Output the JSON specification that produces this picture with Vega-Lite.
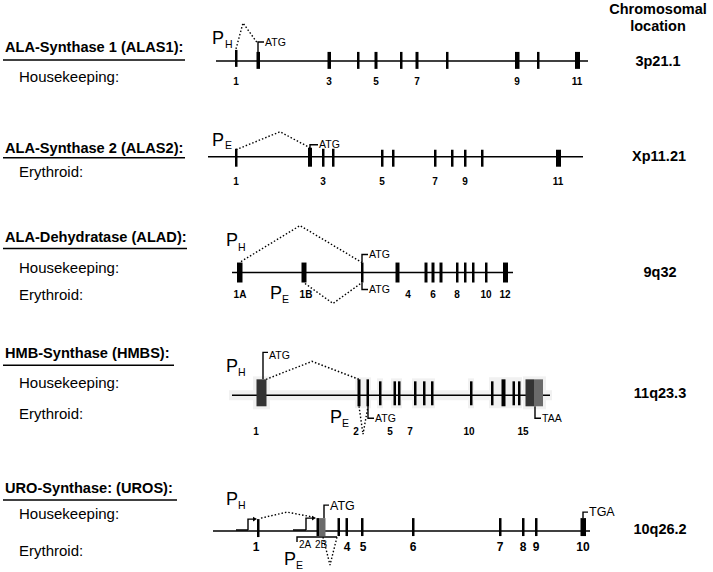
{
  "$schema": "https://vega.github.io/schema/vega-lite/v6.json",
  "width": 713,
  "height": 572,
  "autosize": {"type": "fit", "contains": "padding"},
  "padding": 0,
  "background": "white",
  "config": {"view": {"stroke": null}, "text": {"font": "Liberation Sans", "color": "black"}},
  "datasets": {
    "halos": [
      {"x": 229, "x2": 552, "y": 391, "y2": 401},
      {"x": 253, "x2": 270, "y": 377, "y2": 410},
      {"x": 355, "x2": 371, "y": 378, "y2": 409},
      {"x": 377, "x2": 383, "y": 379, "y2": 409},
      {"x": 391, "x2": 402, "y": 379, "y2": 409},
      {"x": 412, "x2": 435, "y": 379, "y2": 409},
      {"x": 468, "x2": 474, "y": 379, "y2": 409},
      {"x": 489, "x2": 522, "y": 378, "y2": 409},
      {"x": 523, "x2": 546, "y": 377, "y2": 410}
    ],
    "lines": [
      {"x": 216, "x2": 588, "y": 61},
      {"x": 208, "x2": 583, "y": 157},
      {"x": 232, "x2": 513, "y": 273},
      {"x": 232, "x2": 550, "y": 396},
      {"x": 213, "x2": 590, "y": 532},
      {"x": 3, "x2": 185, "y": 60},
      {"x": 3, "x2": 185, "y": 158},
      {"x": 3, "x2": 187, "y": 249},
      {"x": 3, "x2": 174, "y": 366},
      {"x": 3, "x2": 177, "y": 501}
    ],
    "exons": [
      {"x": 235, "x2": 237.5, "y": 50, "y2": 67, "tone": "black"},
      {"x": 256.5, "x2": 260, "y": 52, "y2": 69, "tone": "black"},
      {"x": 327.5, "x2": 331, "y": 52, "y2": 69, "tone": "black"},
      {"x": 357, "x2": 359.5, "y": 52, "y2": 69, "tone": "black"},
      {"x": 374.5, "x2": 377.5, "y": 52, "y2": 69, "tone": "black"},
      {"x": 400, "x2": 402.5, "y": 52, "y2": 69, "tone": "black"},
      {"x": 415.5, "x2": 418.5, "y": 52, "y2": 69, "tone": "black"},
      {"x": 446, "x2": 448.5, "y": 52, "y2": 69, "tone": "black"},
      {"x": 515, "x2": 519.5, "y": 52, "y2": 69, "tone": "black"},
      {"x": 537, "x2": 539.5, "y": 52, "y2": 69, "tone": "black"},
      {"x": 575, "x2": 580, "y": 52, "y2": 69, "tone": "black"},

      {"x": 235, "x2": 237.5, "y": 149, "y2": 167, "tone": "black"},
      {"x": 308, "x2": 312, "y": 148, "y2": 167, "tone": "black"},
      {"x": 322, "x2": 324.5, "y": 149, "y2": 167, "tone": "black"},
      {"x": 332, "x2": 334.5, "y": 149, "y2": 167, "tone": "black"},
      {"x": 381, "x2": 383.5, "y": 150, "y2": 167, "tone": "black"},
      {"x": 392, "x2": 394.5, "y": 150, "y2": 167, "tone": "black"},
      {"x": 434, "x2": 436.5, "y": 150, "y2": 167, "tone": "black"},
      {"x": 451, "x2": 453.5, "y": 150, "y2": 167, "tone": "black"},
      {"x": 464, "x2": 466.5, "y": 150, "y2": 167, "tone": "black"},
      {"x": 481, "x2": 483.5, "y": 150, "y2": 167, "tone": "black"},
      {"x": 556, "x2": 561, "y": 150, "y2": 167, "tone": "black"},

      {"x": 237, "x2": 242.5, "y": 263, "y2": 283, "tone": "black"},
      {"x": 301.5, "x2": 306.5, "y": 263, "y2": 283, "tone": "black"},
      {"x": 361, "x2": 363.5, "y": 263, "y2": 283, "tone": "black"},
      {"x": 395.5, "x2": 399.5, "y": 263, "y2": 283, "tone": "black"},
      {"x": 424.5, "x2": 427.5, "y": 263, "y2": 283, "tone": "black"},
      {"x": 431.5, "x2": 434.5, "y": 263, "y2": 283, "tone": "black"},
      {"x": 439.5, "x2": 442.5, "y": 263, "y2": 283, "tone": "black"},
      {"x": 456, "x2": 458.5, "y": 263, "y2": 283, "tone": "black"},
      {"x": 464, "x2": 466.5, "y": 263, "y2": 283, "tone": "black"},
      {"x": 472, "x2": 474.5, "y": 263, "y2": 283, "tone": "black"},
      {"x": 485, "x2": 487.5, "y": 263, "y2": 283, "tone": "black"},
      {"x": 503, "x2": 508, "y": 263, "y2": 283, "tone": "black"},

      {"x": 256.5, "x2": 266.5, "y": 380, "y2": 407, "tone": "dark"},
      {"x": 357.5, "x2": 360.5, "y": 380, "y2": 407, "tone": "black"},
      {"x": 366.5, "x2": 369, "y": 380, "y2": 407, "tone": "black"},
      {"x": 379, "x2": 381.5, "y": 382, "y2": 406, "tone": "black"},
      {"x": 393.5, "x2": 396, "y": 382, "y2": 406, "tone": "black"},
      {"x": 398, "x2": 400.5, "y": 382, "y2": 406, "tone": "black"},
      {"x": 414, "x2": 416.5, "y": 382, "y2": 406, "tone": "black"},
      {"x": 423, "x2": 425.5, "y": 382, "y2": 406, "tone": "black"},
      {"x": 431, "x2": 433.5, "y": 382, "y2": 406, "tone": "black"},
      {"x": 470, "x2": 472.5, "y": 382, "y2": 406, "tone": "black"},
      {"x": 491, "x2": 493.5, "y": 382, "y2": 406, "tone": "black"},
      {"x": 501.5, "x2": 505.5, "y": 380, "y2": 407, "tone": "black"},
      {"x": 512.5, "x2": 515, "y": 382, "y2": 406, "tone": "black"},
      {"x": 518, "x2": 520.5, "y": 382, "y2": 406, "tone": "black"},
      {"x": 525.5, "x2": 534, "y": 380, "y2": 407, "tone": "dark"},
      {"x": 534, "x2": 543, "y": 380, "y2": 407, "tone": "grey"},

      {"x": 257, "x2": 259.5, "y": 520, "y2": 538, "tone": "black"},
      {"x": 316.5, "x2": 319, "y": 519, "y2": 537, "tone": "black"},
      {"x": 319, "x2": 325.5, "y": 519, "y2": 537, "tone": "grey"},
      {"x": 337.5, "x2": 340, "y": 519, "y2": 537, "tone": "black"},
      {"x": 345.5, "x2": 348, "y": 519, "y2": 537, "tone": "black"},
      {"x": 361, "x2": 363.5, "y": 519, "y2": 537, "tone": "black"},
      {"x": 412, "x2": 414.5, "y": 519, "y2": 537, "tone": "black"},
      {"x": 499, "x2": 501.5, "y": 519, "y2": 537, "tone": "black"},
      {"x": 522, "x2": 524.5, "y": 519, "y2": 537, "tone": "black"},
      {"x": 535, "x2": 537.5, "y": 519, "y2": 537, "tone": "black"},
      {"x": 580.5, "x2": 586, "y": 519, "y2": 537, "tone": "black"}
    ],
    "paths": [
      {"id": "a1", "o": 1, "x": 236, "y": 49, "style": "dotted"},
      {"id": "a1", "o": 2, "x": 243, "y": 23, "style": "dotted"},
      {"id": "a1", "o": 3, "x": 258, "y": 44, "style": "dotted"},
      {"id": "a2", "o": 1, "x": 236, "y": 150, "style": "dotted"},
      {"id": "a2", "o": 2, "x": 280, "y": 132, "style": "dotted"},
      {"id": "a2", "o": 3, "x": 310, "y": 148, "style": "dotted"},
      {"id": "d1", "o": 1, "x": 241, "y": 262, "style": "dotted"},
      {"id": "d1", "o": 2, "x": 300, "y": 226, "style": "dotted"},
      {"id": "d1", "o": 3, "x": 362, "y": 263, "style": "dotted"},
      {"id": "d2", "o": 1, "x": 305, "y": 284, "style": "dotted"},
      {"id": "d2", "o": 2, "x": 333, "y": 304, "style": "dotted"},
      {"id": "d2", "o": 3, "x": 362, "y": 283, "style": "dotted"},
      {"id": "h1", "o": 1, "x": 266, "y": 380, "style": "dotted"},
      {"id": "h1", "o": 2, "x": 312, "y": 362, "style": "dotted"},
      {"id": "h1", "o": 3, "x": 359, "y": 380, "style": "dotted"},
      {"id": "h2", "o": 1, "x": 359, "y": 407, "style": "dotted"},
      {"id": "h2", "o": 2, "x": 363, "y": 435, "style": "dotted"},
      {"id": "h2", "o": 3, "x": 368, "y": 407, "style": "dotted"},
      {"id": "u1", "o": 1, "x": 261, "y": 519, "style": "dotted"},
      {"id": "u1", "o": 2, "x": 287, "y": 513, "style": "dotted"},
      {"id": "u1", "o": 3, "x": 313, "y": 518, "style": "dotted"},
      {"id": "u2", "o": 1, "x": 323, "y": 538, "style": "dotted"},
      {"id": "u2", "o": 2, "x": 330, "y": 566, "style": "dotted"},
      {"id": "u2", "o": 3, "x": 337, "y": 538, "style": "dotted"},

      {"id": "b1", "o": 1, "x": 258, "y": 52, "style": "solid"},
      {"id": "b1", "o": 2, "x": 258, "y": 42, "style": "solid"},
      {"id": "b1", "o": 3, "x": 264, "y": 42, "style": "solid"},
      {"id": "b2", "o": 1, "x": 310, "y": 149, "style": "solid"},
      {"id": "b2", "o": 2, "x": 310, "y": 145, "style": "solid"},
      {"id": "b2", "o": 3, "x": 318, "y": 145, "style": "solid"},
      {"id": "b3", "o": 1, "x": 362, "y": 263, "style": "solid"},
      {"id": "b3", "o": 2, "x": 362, "y": 255, "style": "solid"},
      {"id": "b3", "o": 3, "x": 368, "y": 255, "style": "solid"},
      {"id": "b4", "o": 1, "x": 362, "y": 283, "style": "solid"},
      {"id": "b4", "o": 2, "x": 362, "y": 290, "style": "solid"},
      {"id": "b4", "o": 3, "x": 368, "y": 290, "style": "solid"},
      {"id": "b5", "o": 1, "x": 263, "y": 380, "style": "solid"},
      {"id": "b5", "o": 2, "x": 263, "y": 353, "style": "solid"},
      {"id": "b5", "o": 3, "x": 268, "y": 353, "style": "solid"},
      {"id": "b6", "o": 1, "x": 368, "y": 407, "style": "solid"},
      {"id": "b6", "o": 2, "x": 368, "y": 419, "style": "solid"},
      {"id": "b6", "o": 3, "x": 374, "y": 419, "style": "solid"},
      {"id": "b7", "o": 1, "x": 535, "y": 407, "style": "solid"},
      {"id": "b7", "o": 2, "x": 535, "y": 419, "style": "solid"},
      {"id": "b7", "o": 3, "x": 541, "y": 419, "style": "solid"},
      {"id": "b8", "o": 1, "x": 324, "y": 519, "style": "solid"},
      {"id": "b8", "o": 2, "x": 324, "y": 506, "style": "solid"},
      {"id": "b8", "o": 3, "x": 329, "y": 506, "style": "solid"},
      {"id": "b9", "o": 1, "x": 583, "y": 519, "style": "solid"},
      {"id": "b9", "o": 2, "x": 583, "y": 513, "style": "solid"},
      {"id": "b9", "o": 3, "x": 588, "y": 513, "style": "solid"},
      {"id": "p1", "o": 1, "x": 236, "y": 531, "style": "solid"},
      {"id": "p1", "o": 2, "x": 248, "y": 531, "style": "solid"},
      {"id": "p1", "o": 3, "x": 248, "y": 520, "style": "solid"},
      {"id": "p1", "o": 4, "x": 254, "y": 520, "style": "solid"},
      {"id": "p2", "o": 1, "x": 293, "y": 531, "style": "solid"},
      {"id": "p2", "o": 2, "x": 306, "y": 531, "style": "solid"},
      {"id": "p2", "o": 3, "x": 306, "y": 519, "style": "solid"},
      {"id": "p2", "o": 4, "x": 313, "y": 519, "style": "solid"},
      {"id": "e1", "o": 1, "x": 297, "y": 543, "style": "solid"},
      {"id": "e1", "o": 2, "x": 297, "y": 538, "style": "solid"},
      {"id": "e1", "o": 3, "x": 337, "y": 538, "style": "solid"}
    ],
    "arrows": [
      {"x": 255, "y": 520},
      {"x": 314, "y": 519}
    ],
    "texts": [
      {"kind": "title", "x": 5, "y": 48, "t": "ALA-Synthase 1 (ALAS1):"},
      {"kind": "title", "x": 5, "y": 149, "t": "ALA-Synthase 2 (ALAS2):"},
      {"kind": "title", "x": 5, "y": 238, "t": "ALA-Dehydratase (ALAD):"},
      {"kind": "title", "x": 5, "y": 355, "t": "HMB-Synthase (HMBS):"},
      {"kind": "title", "x": 5, "y": 490, "t": "URO-Synthase: (UROS):"},
      {"kind": "sub", "x": 19, "y": 77, "t": "Housekeeping:"},
      {"kind": "sub", "x": 19, "y": 172, "t": "Erythroid:"},
      {"kind": "sub", "x": 19, "y": 268, "t": "Housekeeping:"},
      {"kind": "sub", "x": 19, "y": 296, "t": "Erythroid:"},
      {"kind": "sub", "x": 19, "y": 384, "t": "Housekeeping:"},
      {"kind": "sub", "x": 19, "y": 415, "t": "Erythroid:"},
      {"kind": "sub", "x": 19, "y": 515, "t": "Housekeeping:"},
      {"kind": "sub", "x": 19, "y": 552, "t": "Erythroid:"},
      {"kind": "chrom", "x": 658, "y": 10, "t": "Chromosomal"},
      {"kind": "chrom", "x": 658, "y": 27, "t": "location"},
      {"kind": "chrom", "x": 658, "y": 62, "t": "3p21.1"},
      {"kind": "chrom", "x": 659, "y": 157, "t": "Xp11.21"},
      {"kind": "chrom", "x": 660, "y": 273, "t": "9q32"},
      {"kind": "chrom", "x": 660, "y": 395, "t": "11q23.3"},
      {"kind": "chrom", "x": 660, "y": 531, "t": "10q26.2"},
      {"kind": "label", "x": 236, "y": 82, "t": "1"},
      {"kind": "label", "x": 329, "y": 82, "t": "3"},
      {"kind": "label", "x": 376, "y": 82, "t": "5"},
      {"kind": "label", "x": 417, "y": 82, "t": "7"},
      {"kind": "label", "x": 517, "y": 82, "t": "9"},
      {"kind": "label", "x": 577, "y": 82, "t": "11"},
      {"kind": "label", "x": 236, "y": 182, "t": "1"},
      {"kind": "label", "x": 323, "y": 182, "t": "3"},
      {"kind": "label", "x": 382, "y": 182, "t": "5"},
      {"kind": "label", "x": 435, "y": 182, "t": "7"},
      {"kind": "label", "x": 465, "y": 182, "t": "9"},
      {"kind": "label", "x": 558, "y": 182, "t": "11"},
      {"kind": "label", "x": 240, "y": 296, "t": "1A"},
      {"kind": "label", "x": 306, "y": 296, "t": "1B"},
      {"kind": "label", "x": 408, "y": 296, "t": "4"},
      {"kind": "label", "x": 433, "y": 296, "t": "6"},
      {"kind": "label", "x": 457, "y": 296, "t": "8"},
      {"kind": "label", "x": 486, "y": 296, "t": "10"},
      {"kind": "label", "x": 505, "y": 296, "t": "12"},
      {"kind": "label", "x": 256, "y": 433, "t": "1"},
      {"kind": "label", "x": 356, "y": 433, "t": "2"},
      {"kind": "label", "x": 390, "y": 433, "t": "5"},
      {"kind": "label", "x": 410, "y": 433, "t": "7"},
      {"kind": "label", "x": 469, "y": 433, "t": "10"},
      {"kind": "label", "x": 523, "y": 433, "t": "15"},
      {"kind": "labelU", "x": 256, "y": 548, "t": "1"},
      {"kind": "labelU", "x": 347, "y": 548, "t": "4"},
      {"kind": "labelU", "x": 363, "y": 548, "t": "5"},
      {"kind": "labelU", "x": 413, "y": 548, "t": "6"},
      {"kind": "labelU", "x": 500, "y": 548, "t": "7"},
      {"kind": "labelU", "x": 523, "y": 548, "t": "8"},
      {"kind": "labelU", "x": 536, "y": 548, "t": "9"},
      {"kind": "labelU", "x": 583, "y": 548, "t": "10"},
      {"kind": "label2", "x": 305, "y": 546, "t": "2A"},
      {"kind": "label2", "x": 321, "y": 546, "t": "2B"},
      {"kind": "codon", "x": 265, "y": 43, "t": "ATG"},
      {"kind": "codon", "x": 319, "y": 145, "t": "ATG"},
      {"kind": "codon", "x": 369, "y": 255, "t": "ATG"},
      {"kind": "codon", "x": 369, "y": 291, "t": "ATG"},
      {"kind": "codon", "x": 269, "y": 357, "t": "ATG"},
      {"kind": "codon", "x": 375, "y": 420, "t": "ATG"},
      {"kind": "codon", "x": 542, "y": 420, "t": "TAA"},
      {"kind": "codonU", "x": 330, "y": 507, "t": "ATG"},
      {"kind": "codonU", "x": 589, "y": 513, "t": "TGA"},
      {"kind": "P", "x": 212, "y": 39, "t": "P"},
      {"kind": "Psub", "x": 225, "y": 45, "t": "H"},
      {"kind": "P", "x": 212, "y": 141, "t": "P"},
      {"kind": "Psub", "x": 225, "y": 146, "t": "E"},
      {"kind": "P", "x": 226, "y": 241, "t": "P"},
      {"kind": "Psub", "x": 238, "y": 248, "t": "H"},
      {"kind": "P", "x": 270, "y": 295, "t": "P"},
      {"kind": "Psub", "x": 282, "y": 301, "t": "E"},
      {"kind": "P", "x": 226, "y": 368, "t": "P"},
      {"kind": "Psub", "x": 238, "y": 374, "t": "H"},
      {"kind": "P", "x": 330, "y": 419, "t": "P"},
      {"kind": "Psub", "x": 342, "y": 425, "t": "E"},
      {"kind": "P", "x": 226, "y": 501, "t": "P"},
      {"kind": "Psub", "x": 238, "y": 507, "t": "H"},
      {"kind": "P", "x": 284, "y": 561, "t": "P"},
      {"kind": "Psub", "x": 296, "y": 567, "t": "E"}
    ]
  },
  "encoding": {
    "x": {"field": "x", "type": "quantitative", "scale": {"domain": [0, 713], "nice": false, "zero": false}, "axis": null},
    "y": {"field": "y", "type": "quantitative", "scale": {"domain": [0, 572], "reverse": true, "nice": false, "zero": false}, "axis": null}
  },
  "layer": [
    {
      "data": {"name": "halos"},
      "mark": {"type": "rect", "fill": "#f1f1f1"},
      "encoding": {"x2": {"field": "x2"}, "y2": {"field": "y2"}}
    },
    {
      "data": {"name": "lines"},
      "mark": {"type": "rule", "stroke": "black", "strokeWidth": 1.5},
      "encoding": {"x2": {"field": "x2"}}
    },
    {
      "data": {"name": "paths"},
      "mark": {"type": "line", "stroke": "black", "strokeWidth": 1.4, "interpolate": "linear"},
      "encoding": {
        "detail": {"field": "id"},
        "order": {"field": "o", "type": "quantitative"},
        "strokeDash": {"field": "style", "type": "nominal", "scale": {"domain": ["solid", "dotted"], "range": [[1, 0], [1.5, 2]]}, "legend": null}
      }
    },
    {
      "data": {"name": "exons"},
      "mark": {"type": "rect"},
      "encoding": {
        "x2": {"field": "x2"},
        "y2": {"field": "y2"},
        "fill": {"field": "tone", "type": "nominal", "scale": {"domain": ["black", "dark", "grey"], "range": ["#000000", "#333333", "#6a6a6a"]}, "legend": null}
      }
    },
    {
      "data": {"name": "arrows"},
      "mark": {"type": "point", "shape": "triangle-right", "filled": true, "fill": "black", "size": 22, "opacity": 1}
    },
    {
      "data": {"name": "texts"},
      "transform": [{"filter": "datum.kind === 'title'"}],
      "mark": {"type": "text", "align": "left", "baseline": "middle", "fontSize": 14.6, "fontWeight": "bold"},
      "encoding": {"text": {"field": "t"}}
    },
    {
      "data": {"name": "texts"},
      "transform": [{"filter": "datum.kind === 'sub'"}],
      "mark": {"type": "text", "align": "left", "baseline": "middle", "fontSize": 15},
      "encoding": {"text": {"field": "t"}}
    },
    {
      "data": {"name": "texts"},
      "transform": [{"filter": "datum.kind === 'chrom'"}],
      "mark": {"type": "text", "align": "center", "baseline": "middle", "fontSize": 14.5, "fontWeight": "bold"},
      "encoding": {"text": {"field": "t"}}
    },
    {
      "data": {"name": "texts"},
      "transform": [{"filter": "datum.kind === 'label'"}],
      "mark": {"type": "text", "align": "center", "baseline": "middle", "fontSize": 10, "fontWeight": "bold"},
      "encoding": {"text": {"field": "t"}}
    },
    {
      "data": {"name": "texts"},
      "transform": [{"filter": "datum.kind === 'labelU'"}],
      "mark": {"type": "text", "align": "center", "baseline": "middle", "fontSize": 12, "fontWeight": "bold"},
      "encoding": {"text": {"field": "t"}}
    },
    {
      "data": {"name": "texts"},
      "transform": [{"filter": "datum.kind === 'label2'"}],
      "mark": {"type": "text", "align": "center", "baseline": "middle", "fontSize": 10},
      "encoding": {"text": {"field": "t"}}
    },
    {
      "data": {"name": "texts"},
      "transform": [{"filter": "datum.kind === 'codon'"}],
      "mark": {"type": "text", "align": "left", "baseline": "middle", "fontSize": 10.5},
      "encoding": {"text": {"field": "t"}}
    },
    {
      "data": {"name": "texts"},
      "transform": [{"filter": "datum.kind === 'codonU'"}],
      "mark": {"type": "text", "align": "left", "baseline": "middle", "fontSize": 12.5},
      "encoding": {"text": {"field": "t"}}
    },
    {
      "data": {"name": "texts"},
      "transform": [{"filter": "datum.kind === 'P'"}],
      "mark": {"type": "text", "align": "left", "baseline": "middle", "fontSize": 18},
      "encoding": {"text": {"field": "t"}}
    },
    {
      "data": {"name": "texts"},
      "transform": [{"filter": "datum.kind === 'Psub'"}],
      "mark": {"type": "text", "align": "left", "baseline": "middle", "fontSize": 10.5},
      "encoding": {"text": {"field": "t"}}
    }
  ]
}
